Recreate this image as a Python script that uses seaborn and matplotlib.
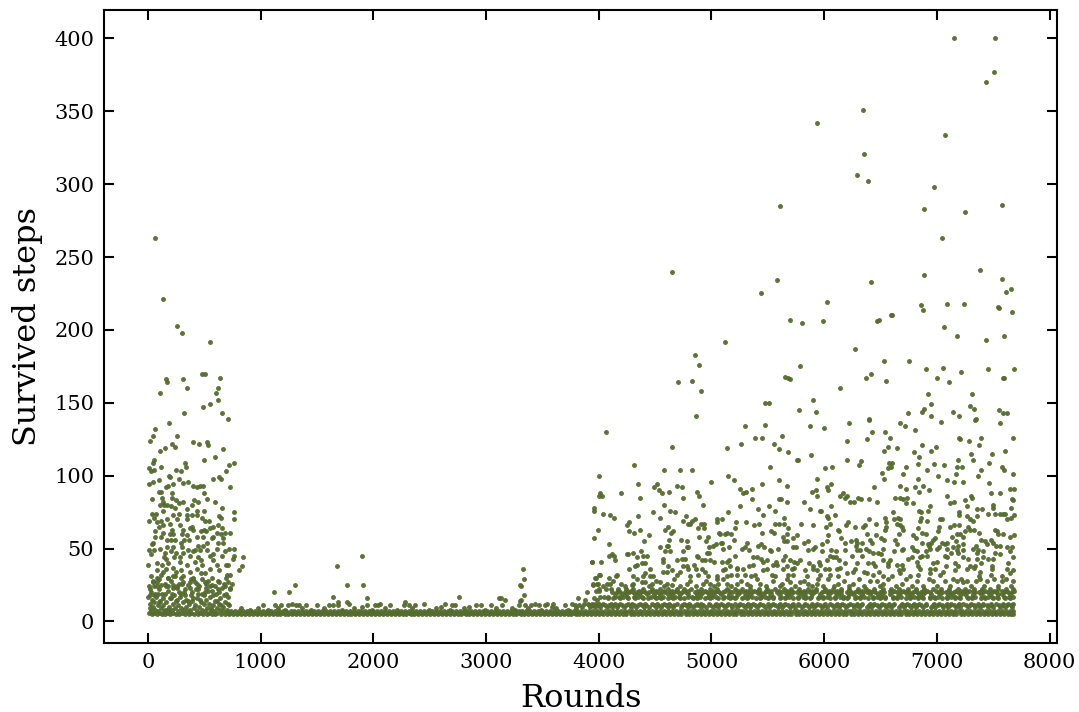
import pandas as pd
import seaborn as sns
import matplotlib.pyplot as plt

# sparse points above the dense bands as (round, steps)
top_points = [(7152,400),(7519,400),(7504,377),(7436,370),(6347,351),(5936,342),(7072,334),(6350,321),(6288,306),(6392,302),
    (6975,298),(5605,285),(6885,283),(7250,281),(7578,286),(7042,263),(7382,241),(4647,240),(6883,238),(7575,235),
    (5581,234),(6413,233),(5439,225),(6025,219),(7657,228),(7613,226),(6859,217),(6874,214),(7090,218),(7241,218),
    (7542,216),(7551,215),(7666,212),(5696,207),(5806,205),(5989,206),(6468,206),(6486,207),(6590,210),(6605,210),
    (7063,202),(7181,196),(7433,193),(7597,196),(5120,192),(6277,187),(4851,183),(4892,176),(6527,179),(6755,179),
    (5782,175),(6903,173),(7057,174),(7214,171),(7453,173),(7681,173),(7584,167),(7597,167),(5655,168),(5676,167),
    (5696,166),(4700,164),(4830,165),(4905,158),(6368,167),(6413,170),(6546,165),(6998,167),(7105,164),(6143,160),
    (5901,152),(6918,156),(7314,156),(5475,150),(5510,150),(5776,145),(5927,144),(4860,141),(6949,149),(6888,146),
    (6870,144),(7294,148),(7327,146),(7140,144),(7551,145),(7590,143),(7619,143),(6744,143),(7193,141),(6945,141),
    (6395,139),(7344,139)]

early_points = [(59,263),(133,221),(257,203),(304,198),(550,192),(479,170),(506,170),(636,167),(159,166),(168,164),
    (307,166),(343,160),(618,160),(109,157),(603,157),(621,152),(547,149),(488,147),(316,143),(656,143),
    (707,139),(186,136),(59,132),(44,127),(257,127),(17,124),(213,122),(396,123),(452,122),(520,123),
    (532,121),(236,120),(148,119),(106,117),(665,118),(594,113),(497,111),(53,111),(41,109),(331,109),
    (337,106),(112,106),(716,107),(763,109),(12,105),(23,103),(53,104),(251,104),(290,103),(692,103),
    (189,100),(198,99),(580,98),(633,99),(648,98),(97,97),(41,96),(12,94),(272,98),(310,95),
    (355,96),(219,94),(177,93),(159,92),(402,93),(432,92),(461,93),(491,93),(727,92),(100,89),
    (115,89),(210,88),(497,88),(124,85),(32,84),(213,85),(248,83),(278,81),(313,82),(526,84),
    (408,83),(446,82),(591,82),(130,82),(106,80),(142,80),(171,80),(201,79),(242,78),(387,80),
    (349,77),(432,76),(497,76),(656,78),(763,75),(136,76),(278,74),(219,73),(35,74),(71,74),
    (53,71),(6,69),(349,73),(432,73),(390,73),(627,72),(644,71),(763,70),(165,70),(112,69),
    (83,68),(254,70),(343,70),(479,71),(506,69),(544,69),(195,67),(136,66),(100,65),(284,66),
    (390,65),(372,64),(497,63),(574,65),(550,64),(624,66),(656,64),(727,61),(680,61),(62,62),
    (136,61),(210,63),(313,63),(195,60),(225,60),(467,62),(514,62),(580,58),(298,60),(343,59),
    (396,63),(609,61),(644,60),(65,58),(112,58),(165,56),(201,56),(239,56),(319,56),(367,56),
    (432,58),(485,58),(565,57),(668,57),(32,53),(41,54),(290,54),(520,54),(624,54),(668,54),
    (12,49),(53,49),(106,50),(171,51),(225,51),(298,51),(446,52),(485,52),(417,49),(461,49),
    (615,50),(716,50),(763,50),(29,46),(151,47),(201,48),(248,47),(307,47),(358,49),(396,48),
    (526,49),(580,46),(683,48),(142,44),(159,43),(230,44),(284,44),(372,45),(446,44),(467,42),
    (550,45),(653,45),(846,44),(763,45),(751,43),(3,39),(77,40),(121,39),(180,40),(225,37),
    (284,41),(343,39),(417,41),(476,39),(580,42),(615,39),(692,39),(713,39),(831,38),(810,35),
    (77,35),(130,34),(159,36),(248,34),(290,35),(372,34),(432,36),(550,36),(506,33),(633,35),
    (698,32),(727,32),(29,31),(112,32),(100,29),(180,30),(225,31),(313,31),(402,30),(467,33),
    (565,30),(47,27),(77,27),(17,22),(53,24),(77,24),(180,24),(225,25),(254,24),(298,26),
    (372,27),(432,26),(514,26),(550,24),(633,27),(713,27),(742,26),(17,18),(53,18),(91,19),
    (151,19),(210,19),(278,20),(328,22),(387,20),(446,22),(506,20),(565,21),(624,22),(683,24),
    (727,22)]

# the packed part of the first 700 rounds, under about 30 steps
early_dense = [(8,6),(14,9),(21,12),(27,7),(33,15),(38,5),(46,10),(52,6),(58,13),(66,8),
    (71,17),(79,5),(85,11),(90,7),(97,22),(104,6),(110,14),(118,9),(124,5),(129,19),
    (136,11),(142,7),(149,26),(155,5),(161,13),(168,8),(174,21),(181,6),(187,10),(193,16),
    (200,5),(207,28),(212,8),(219,12),(226,6),(232,18),(238,9),(245,5),(251,14),(258,23),
    (264,7),(270,11),(277,5),(283,17),(289,9),(296,30),(302,6),(309,13),(315,8),(322,20),
    (328,5),(335,10),(341,15),(348,7),(354,25),(360,5),(367,12),(373,8),(380,18),(386,6),
    (393,14),(399,29),(405,9),(412,5),(418,11),(425,22),(431,7),(437,16),(444,5),(450,10),
    (457,24),(463,6),(469,13),(476,8),(482,19),(489,5),(495,12),(502,27),(508,7),(514,15),
    (521,5),(527,9),(534,21),(540,6),(546,12),(553,17),(559,8),(566,5),(572,25),(578,11),
    (585,7),(591,14),(598,5),(604,19),(611,9),(617,6),(623,28),(630,12),(636,8),(643,16),
    (649,5),(655,23),(662,10),(668,7),(675,18),(681,5),(688,13),(694,30),(700,8),(707,6),
    (713,17),(720,11),(725,23),(3,17),(11,24),(24,20),(42,28),(63,19),(76,30),(94,13),
    (113,25),(131,16),(147,8),(164,24),(177,30),(191,7),(205,16),(222,23),(241,31),(262,15),
    (275,26),(293,19),(311,27),(331,18),(352,14),(369,23),(384,29),(403,16),(421,27),(440,19),
    (459,15),(478,29),(498,18),(517,23),(537,28),(556,9),(575,18),(594,24),(613,14),(634,20),
    (652,11),(672,26),(691,19),(710,12)]

middle_points = [(1118,20),(1254,20),(1304,25),(1674,38),(1902,45),(1763,25),(1908,25),(1642,17),(1946,16),(1763,13),
    (1784,12),(1689,13),(1686,11),(1023,11),(1127,11),(1183,11),(1239,11),(1281,12),(1313,11),(1343,11),
    (1399,11),(1500,11),(1606,11),(1639,11),(1899,10),(1940,11),(2014,11),(2038,11),(2062,12),(2147,11),
    (2280,13),(2272,11),(2319,11),(2372,11),(2446,12),(2597,10),(2636,12),(2695,11),(2724,11),(2757,17),
    (2845,10),(2911,11),(2952,11),(3044,11),(3118,16),(3129,16),(3171,15),(3144,11),(3230,9),(3328,36),
    (3334,29),(3301,25),(3313,24),(3337,18),(3310,15),(3304,14),(3295,11),(3345,11),(3396,11),(3434,12),
    (3467,11),(3523,11),(3544,12),(3591,12),(3582,10),(3697,11),(3759,12),(3789,11),(3819,16),(3878,15),
    (3937,41),(3969,30),(3952,25),(4005,32),(3993,26),(3972,21),(4005,21),(3893,20),(3961,16),(3981,15),
    (3907,12),(3937,11),(3966,12),(3996,11),(3850,10),(3870,12),(3825,11),(3800,9),(830,9),(905,8),
    (980,9),(1065,8),(1150,9),(1220,8),(1370,9),(1450,8),(1560,9),(1720,8),(1830,9),(1990,8),
    (2100,9),(2210,8),(2340,9),(2490,8),(2560,9),(2680,8),(2800,9),(2990,8),(3090,9),(3260,8),
    (3375,9),(3490,8),(3620,9),(3730,8)]

late_left_points = [(4061,130),(5297,134),(5472,135),(5874,134),(4647,120),(5389,126),(5445,126),(5623,127),(5259,122),(5141,119),
    (5552,122),(5602,118),(5679,116),(5886,114),(5762,111),(5768,111),(4315,107),(4582,104),(4724,104),(4827,104),
    (5516,106),(4002,100),(5144,100),(5203,97),(4993,96),(4348,94),(4517,94),(4493,92),(4531,90),(4564,88),
    (4620,89),(4691,93),(4738,92),(4872,89),(4889,86),(4750,85),(4369,85),(4194,88),(4014,88),(4005,86),
    (4028,86),(5253,91),(5283,88),(5303,89),(5360,91),(5360,84),(5448,94),(5596,97),(5670,93),(5602,84),
    (5617,84),(5673,82),(5824,82),(5933,98),(5889,89),(5925,90),(5933,86),(4925,80),(4579,80),(3957,78),
    (3955,76),(4481,75),(4632,76),(4679,75),(4034,74),(4099,73),(4135,71),(4351,72),(4546,71),(4774,72),
    (4747,69),(4857,70),(4830,69),(4795,67),(4809,67),(5250,79),(5144,75),(5413,77),(5460,73),(5513,79),
    (5567,76),(5874,77),(5963,76),(5644,71),(5052,70),(5090,70),(5052,68),(5218,68),(5309,68),(5377,66),
    (5422,67),(5561,67),(5602,67),(5641,67),(5791,67),(5898,66),(4904,67),(4934,67),(4883,64),(4934,64),
    (5212,64),(4271,68),(4250,66),(3993,63),(4268,62),(4309,61),(4366,63),(4588,63),(4617,65),(4662,62),
    (4641,61),(4449,59),(5067,61),(5079,60),(5123,60),(5135,61),(5173,60),(5448,61),(5528,62),(5552,61),
    (5682,64),(5667,60),(5632,58),(5726,57),(5762,59),(3957,57),(4091,53),(4626,56),(4733,56),(4786,55),
    (4889,58),(4969,58),(4954,55),(4398,55),(5200,56),(5644,55),(5667,55),(5824,54),(5860,55),(5318,54),
    (4543,51),(4608,52),(4617,52),(4780,51),(4795,51),(4978,51),(5011,52),(5043,53),(5082,54),(5093,54),
    (5155,51),(5274,50),(5297,51),(5330,49),(5410,52),(5443,53),(5466,51),(5590,50),(5726,51),(5747,51),
    (5854,49),(5898,50),(5919,51),(4588,48),(4632,48),(4747,48),(4978,47),(4957,47),(5102,50),(4307,47),
    (4372,48),(4247,46),(4262,46),(4114,46),(4094,45),(4135,45),(4147,42),(4336,44),(4389,45),(4431,45),
    (4567,43),(4570,41),(4735,43),(4765,43),(4869,45),(4883,44),(4913,42),(4943,42),(4987,42),(5022,41),
    (5090,41),(5135,41),(5158,42),(5206,45),(5365,44),(5401,44),(5442,43),(5454,41),(5519,49),(5528,48),
    (5490,42),(5573,41),(5632,42),(5650,45),(5697,42),(5732,41),(5756,40),(5789,42),(5868,40),(5904,38),
    (5951,41),(5963,39),(3937,41),(4023,41),(4410,40),(4380,40),(4336,39),(4321,38),(4457,36),(4265,36),
    (4611,38),(4694,42),(4780,38),(4744,38),(4795,36),(4845,39),(4863,36),(4913,36),(4940,34),(5099,35),
    (5120,36),(5165,38),(5224,37),(5224,36),(5277,36),(5330,38),(5371,39),(5490,36),(5549,39),(5578,39),
    (5632,36),(5667,38),(5711,36),(5732,37),(5827,35),(5898,36),(4573,34),(4608,34),(4647,35),(4721,34),
    (4691,32),(4410,33),(4395,31),(4307,31),(4454,31),(4484,31),(4165,32),(4153,31),(4011,32),(3975,30),
    (4094,30),(4809,31),(4883,32),(4972,31),(5046,31),(5046,29),(5135,31),(5170,32),(5224,32),(5297,32),
    (5348,31),(5386,32),(5460,35),(5534,32),(5564,31),(5682,32),(5720,32),(5845,31),(5933,35),(3952,26),
    (3987,26),(4070,26),(4099,26),(4197,26),(4292,25),(4307,26),(4380,27),(4410,27),(4469,26),(4543,27),
    (4602,26),(4647,25),(4780,26),(4928,26),(4987,26),(5061,26),(5135,26),(5224,26),(5312,26),(5431,26),
    (5623,26),(5697,27),(5786,27),(5860,26),(5933,26),(4040,24),(4128,28),(4232,24),(4338,29),(4445,24),
    (4512,28),(4578,24),(4665,29),(4722,24),(4812,28),(4862,24),(4955,28),(5024,24),(5098,29),(5172,24),
    (5263,28),(5338,24),(5402,29),(5488,24),(5545,28),(5604,24),(5668,29),(5745,24),(5822,28),(5891,24),
    (5946,29)]

late_right_points = [(6001,133),(6223,136),(6398,138),(6676,136),(6717,134),(7034,137),(7341,138),(7560,136),(6427,130),(6540,130),
    (6806,131),(6206,124),(6383,125),(6584,126),(7199,126),(7208,125),(7395,126),(7676,126),(7285,124),(6865,121),
    (6993,120),(7374,121),(6564,120),(6528,117),(6643,119),(6800,116),(6839,113),(6948,117),(7300,115),(7321,111),
    (7489,115),(7608,117),(6203,111),(6330,110),(6306,107),(6578,109),(6599,109),(6593,106),(6563,105),(6004,105),
    (6069,106),(6723,106),(6830,108),(6978,108),(7063,107),(7191,111),(7179,106),(7223,106),(6915,104),(7463,109),
    (7581,106),(7599,104),(7392,104),(7676,101),(6510,102),(6531,98),(6702,101),(6836,98),(7007,100),(7167,101),
    (7368,100),(7090,97),(7149,96),(7232,96),(7463,95),(6061,94),(6028,92),(6031,90),(6442,92),(6676,93),
    (6723,91),(6809,92),(6845,89),(6880,93),(6930,90),(7646,91),(7685,91),(7483,88),(7563,88),(6167,88),
    (6140,86),(6200,86),(6188,85),(6226,82),(6268,82),(6303,85),(6324,84),(6395,84),(6466,82),(6629,85),
    (6676,85),(6697,84),(6738,85),(6729,81),(6791,81),(7093,86),(7155,82),(7114,81),(7247,83),(7306,86),
    (7312,85),(7267,79),(7667,84),(7679,83),(6939,79),(6924,76),(6061,79),(7501,80),(7495,78),(7661,78),
    (5969,76),(6611,75),(6841,76),(6859,75),(7353,77),(7401,77),(7451,74),(7516,74),(7560,74),(7590,74),
    (7608,74),(7196,75),(7193,73),(6022,72),(6037,71),(6093,73),(6398,70),(6540,71),(6620,70),(6658,71),
    (6673,70),(6859,71),(6850,69),(6915,69),(7028,70),(7043,70),(7265,72),(7353,72),(7294,70),(7318,69),
    (7685,73),(7655,71),(7620,70),(6214,68),(6194,66),(6052,67),(6019,65),(6463,67),(6274,65),(6342,65),
    (6362,66),(6546,68),(6549,65),(6540,63),(6649,67),(6673,66),(6688,65),(6702,63),(6836,64),(7117,65),
    (7152,66),(7196,66),(7019,65),(7013,62),(7279,65),(6126,63),(6129,62),(6034,59),(6149,57),(6185,54),
    (6235,55),(6282,56),(6288,54),(6383,60),(6410,56),(6421,54),(6460,59),(6504,57),(6531,56),(6661,60),
    (6629,56),(6643,53),(6791,59),(6818,57),(6871,54),(6904,60),(6865,61),(6984,57),(6969,56),(6948,54),
    (6924,53),(7087,54),(7043,54),(7072,53),(7131,58),(7182,60),(7205,60),(7229,58),(7250,62),(7294,63),
    (7330,63),(7371,61),(7516,63),(7531,62),(7546,60),(7590,60),(7649,58),(7685,59),(7170,55),(7235,53),
    (7191,52),(7389,56),(7427,55),(7478,56),(7501,54),(7442,53),(5978,53),(6028,55),(6282,52),(6058,49),
    (6105,48),(6185,49),(5978,48),(6288,49),(6318,49),(6336,54),(6371,50),(6401,48),(6430,47),(6481,47),
    (6504,46),(6525,50),(6620,48),(6697,50),(6688,49),(6776,51),(6797,49),(6821,48),(6933,52),(6939,50),
    (6904,48),(6865,45),(7004,50),(7022,51),(7087,50),(7140,51),(7123,47),(7176,49),(7229,49),(7191,47),
    (7324,50),(7347,52),(7368,49),(7406,48),(7353,47),(7525,52),(7560,52),(7516,47),(7560,46),(7620,51),
    (7664,51),(7649,48),(7679,44),(6052,45),(6075,44),(6105,44),(6135,42),(6250,45),(6333,45),(6776,44),
    (6744,43),(6850,44),(6915,45),(7072,45),(7087,44),(7235,44),(7279,43),(7353,43),(7406,44),(7457,43),
    (7495,43),(7634,40),(6185,40),(6022,42),(6288,40),(6386,40),(6436,40),(6525,42),(6584,42),(6569,40),
    (6643,39),(6691,39),(6821,41),(6836,38),(6998,41),(6969,40),(7081,38),(7161,40),(7191,38),(7294,38),
    (7338,38),(7392,40),(7486,38),(6007,36),(6046,36),(6111,36),(6140,37),(6274,36),(6353,34),(6451,38),
    (6489,34),(6569,38),(6667,35),(6697,36),(6850,36),(6939,36),(6984,36),(7057,34),(7161,35),(7265,36),
    (7330,37),(7383,34),(7486,36),(7620,36),(7673,35),(5963,32),(6052,32),(6126,31),(6200,33),(6259,34),
    (6377,33),(6436,32),(6525,31),(6599,31),(6673,33),(6762,31),(6836,32),(6939,33),(7028,32),(7146,29),
    (7235,27),(7377,31),(7477,32),(7575,31),(7649,33),(7673,28),(6126,26),(6259,26),(6407,28),(6525,26),
    (6688,26),(6969,28),(7176,28),(7265,28),(7383,29),(7442,28),(7575,28),(5992,24),(6038,29),(6084,24),
    (6172,28),(6221,24),(6312,29),(6356,24),(6470,28),(6498,24),(6566,29),(6640,24),(6725,29),(6780,24),
    (6822,28),(6881,24),(6930,29),(7002,24),(7074,28),(7118,24),(7212,29),(7302,24),(7351,28),(7418,24),
    (7505,29),(7542,24),(7612,29),(7655,24)]

# bottom band, y=5, 6 and 7, right across the run
band5_x = [722,758,791,829,860,897,933,966,1002,1037,1070,1108,1141,1176,1213,1246,1282,1316,1352,1385,
    1421,1458,1491,1527,1560,1597,1632,1665,1702,1737,1771,1806,1841,1877,1910,1946,1981,2015,2050,2086,
    2119,2155,2190,2224,2259,2294,2330,2363,2399,2434,2468,2503,2538,2574,2607,2643,2678,2712,2747,2782,
    2818,2851,2887,2922,2956,2991,3026,3062,3095,3131,3166,3200,3235,3270,3306,3339,3375,3410,3444,3479,
    3514,3550,3583,3619,3654,3688,3723,3758,3794,3827,3863,3898,3932,3967,4002,4038,4071,4107,4142,4176,
    4211,4246,4282,4315,4351,4386,4420,4455,4490,4526,4559,4595,4630,4664,4699,4734,4770,4803,4839,4874,
    4908,4943,4978,5014,5047,5083,5118,5152,5187,5222,5258,5291,5327,5362,5396,5431,5466,5502,5535,5571,
    5606,5640,5675,5710,5746,5779,5815,5850,5884,5919,5954,5990,6023,6059,6094,6128,6163,6198,6234,6267,
    6303,6338,6372,6407,6442,6478,6511,6547,6582,6616,6651,6686,6722,6755,6791,6826,6860,6895,6930,6966,
    6999,7035,7070,7104,7139,7174,7210,7243,7279,7314,7348,7383,7418,7454,7487,7523,7558,7592,7627,7662,7680]
band6_x = [731,775,812,846,881,918,950,985,1019,1055,1090,1124,1158,1194,1230,1264,1299,1335,1369,1404,
    1439,1474,1510,1544,1579,1614,1649,1684,1719,1754,1789,1824,1859,1894,1929,1964,1999,2034,2068,2103,
    2138,2173,2208,2243,2278,2313,2348,2383,2418,2452,2487,2522,2557,2592,2627,2662,2697,2732,2766,2800,
    2835,2870,2905,2940,2975,3010,3045,3079,3114,3149,3184,3219,3254,3289,3323,3358,3393,3428,3463,3498,
    3533,3567,3602,3637,3672,3707,3742,3777,3811,3846,3881,3916,3951,3986,4020,4090,4160,4230,4298,4368,
    4438,4508,4578,4647,4716,4786,4856,4926,4996,5066,5135,5205,5274,5344,5414,5484,5553,5623,5692,5762,
    5832,5902,5972,6041,6111,6181,6250,6320,6390,6460,6529,6599,6668,6738,6808,6878,6947,7017,7087,7156,
    7226,7296,7365,7435,7505,7574,7644]
band7_x = [702,740,774,811,845,879,915,950,984,1020,1053,1090,1124,1159,1196,1229,1265,1299,1335,1368,
    1404,1440,1474,1510,1543,1580,1615,1648,1685,1720,1754,1789,1824,1860,1893,1929,1964,1998,2033,2069,
    2102,2138,2173,2207,2242,2277,2313,2346,2382,2417,2451,2486,2521,2557,2590,2626,2661,2695,2730,2765,
    2801,2834,2870,2905,2939,2974,3009,3045,3078,3114,3149,3183,3218,3253,3289,3322,3358,3393,3427,3462,
    3497,3533,3566,3602,3637,3671,3706,3741,3777,3810,3846,3881,3915,3950,3985,4021,4054,4090,4125,4159,
    4194,4229,4265,4298,4334,4369,4403,4438,4473,4509,4542,4578,4613,4647,4682,4717,4753,4786,4822,4857,
    4891,4926,4961,4997,5030,5066,5101,5135,5170,5205,5241,5274,5310,5345,5379,5414,5449,5485,5518,5554,
    5589,5623,5658,5693,5729,5762,5798,5833,5867,5902,5937,5973,6006,6042,6077,6111,6146,6181,6217,6250,
    6286,6321,6355,6390,6425,6461,6494,6530,6565,6599,6634,6669,6705,6738,6774,6809,6843,6878,6913,6949,
    6982,7018,7053,7087,7122,7157,7193,7226,7262,7297,7331,7366,7401,7437,7470,7506,7541,7575,7610,7645,7675]
# the broken rows at about 11, 16 and 20 steps after round 3900
row10_x = [3925,3968,4015,4072,4118,4164,4221,4288,4331,4402,4447,4511,4553,4618,4661,4728,4793,4835,4906,4948,
    5013,5056,5121,5186,5229,5299,5342,5407,5473,5515,5586,5629,5694,5737,5802,5867,5910,5981,6024,6089,
    6132,6197,6262,6305,6376,6419,6484,6549,6592,6662,6705,6770,6814,6879,6944,6987,7058,7101,7166,7209,
    7274,7339,7382,7453,7496,7561,7604,7669]
row11_x = [3912,3948,3985,4020,4058,4092,4130,4168,4202,4240,4275,4312,4350,4384,4422,4490,4528,4562,4600,4635,
    4672,4740,4778,4812,4850,4885,4922,4990,5028,5062,5100,5135,5172,5240,5278,5312,5350,5385,5422,5460,
    5530,5568,5602,5640,5675,5712,5780,5818,5852,5890,5925,5962,6000,6070,6108,6142,6180,6215,6252,6290,
    6325,6395,6432,6468,6505,6540,6578,6612,6680,6718,6752,6790,6825,6862,6900,6970,7008,7042,7080,7115,
    7152,7190,7260,7298,7332,7370,7405,7442,7480,7550,7588,7622,7660]
row12_x = [3940,4000,4040,4105,4148,4190,4260,4295,4368,4410,4472,4515,4580,4622,4690,4755,4798,4868,4910,4975,
    5040,5084,5150,5210,5255,5326,5370,5434,5500,5542,5612,5655,5722,5764,5830,5895,5938,6008,6052,6116,
    6160,6225,6290,6332,6404,6446,6512,6576,6620,6690,6732,6798,6842,6906,6972,7015,7086,7128,7194,7236,
    7302,7366,7410,7480,7524,7588,7632,7680]
row16_x = [4082,4122,4190,4260,4322,4395,4436,4505,4548,4610,4655,4722,4760,4834,4875,4945,4986,5055,5098,5168,
    5206,5275,5318,5392,5432,5502,5544,5610,5652,5724,5764,5832,5875,5942,5986,6052,6096,6166,6205,6276,
    6316,6390,6430,6498,6542,6608,6650,6722,6762,6830,6874,6940,6984,7050,7094,7164,7204,7274,7314,7388,
    7428,7496,7540,7606,7648]
row17_x = [4010,4045,4082,4140,4178,4212,4250,4310,4348,4382,4460,4498,4532,4570,4640,4678,4712,4790,4828,4862,
    4900,4970,5008,5042,5110,5148,5182,5220,5290,5328,5362,5440,5478,5512,5550,5620,5658,5692,5770,5808,
    5842,5880,5950,5988,6022,6100,6138,6172,6210,6280,6318,6352,6430,6468,6502,6540,6610,6648,6682,6760,
    6798,6832,6870,6940,6978,7012,7090,7128,7162,7200,7270,7308,7342,7420,7458,7492,7530,7600,7638,7672]
row19_x = [4140,4208,4246,4322,4360,4432,4488,4540,4612,4650,4720,4796,4868,4906,4978,5016,5088,5160,5236,5308,
    5346,5418,5456,5528,5600,5672,5710,5782,5820,5892,5964,6040,6112,6150,6222,6260,6332,6404,6476,6514,
    6586,6660,6732,6770,6842,6880,6952,7028,7100,7138,7210,7248,7320,7392,7468,7540,7578,7650]
row20_x = [4120,4158,4192,4230,4265,4302,4340,4375,4412,4450,4520,4558,4592,4630,4665,4702,4740,4775,4850,4888,
    4922,4960,4995,5032,5070,5105,5180,5218,5252,5290,5325,5362,5400,5435,5472,5510,5580,5618,5652,5690,
    5725,5762,5800,5835,5872,5910,5985,6022,6058,6095,6130,6200,6238,6272,6310,6345,6382,6420,6455,6492,
    6530,6605,6642,6678,6715,6750,6788,6825,6860,6898,6935,7010,7048,7082,7120,7155,7192,7230,7265,7340,
    7378,7412,7450,7485,7522,7595,7632,7668]
row21_x = [4175,4248,4285,4358,4395,4468,4505,4578,4648,4685,4758,4795,4868,4940,5012,5050,5122,5160,5232,5305,
    5378,5415,5488,5525,5598,5670,5708,5780,5818,5890,5928,6002,6040,6112,6150,6222,6294,6332,6402,6440,
    6512,6586,6624,6696,6732,6806,6878,6916,6988,7026,7100,7172,7210,7282,7320,7392,7430,7504,7576,7614,7684]
row22_x = [4005,4060,4105,4175,4245,4300,4395,4470,4540,4610,4690,4760,4815,4905,4985,5050,5140,5210,5270,5345,
    5420,5490,5560,5640,5710,5780,5855,5925,6005,6075,6150,6220,6300,6375,6440,6520,6590,6665,6740,6815,
    6890,6965,7040,7110,7190,7250,7330,7400,7470,7540,7610,7680]

x_ticks = [0, 1000, 2000, 3000, 4000, 5000, 6000, 7000, 8000]
y_ticks = [0, 50, 100, 150, 200, 250, 300, 350, 400]

rows = []
for pts in [top_points, early_points, early_dense, middle_points, late_left_points, late_right_points]:
    rows += pts
for y, xs in [(5, band5_x), (6, band6_x), (7, band7_x), (10, row10_x), (11, row11_x), (12, row12_x),
              (16, row16_x), (17, row17_x), (19, row19_x), (20, row20_x), (21, row21_x), (22, row22_x)]:
    rows += [(x, y) for x in xs]
df = pd.DataFrame(rows, columns=['rounds', 'steps'])

plt.rcParams['font.family'] = ['DejaVu Serif']
fig = plt.figure(figsize=(10.79, 7.12), dpi=100)
ax = fig.add_axes([104/1079, 1-643/712, (1057-104)/1079, (643-10)/712])
sns.scatterplot(data=df, x='rounds', y='steps', color='#556B2F', s=12.5, linewidth=0, alpha=0.95, ax=ax)
ax.set_xlim(-390, 8066)
ax.set_ylim(-14.8, 419.5)
ax.set_xticks(x_ticks)
ax.set_yticks(y_ticks)
ax.tick_params(direction='in', top=True, right=True, length=7.5, width=1.5, labelsize=15, pad=7)
for s in ax.spines.values():
    s.set_linewidth(1.5)
ax.set_xlabel('Rounds', fontsize=23, labelpad=8)
ax.set_ylabel('Survived steps', fontsize=23, labelpad=8)
fig.savefig('out.png', dpi=100)
